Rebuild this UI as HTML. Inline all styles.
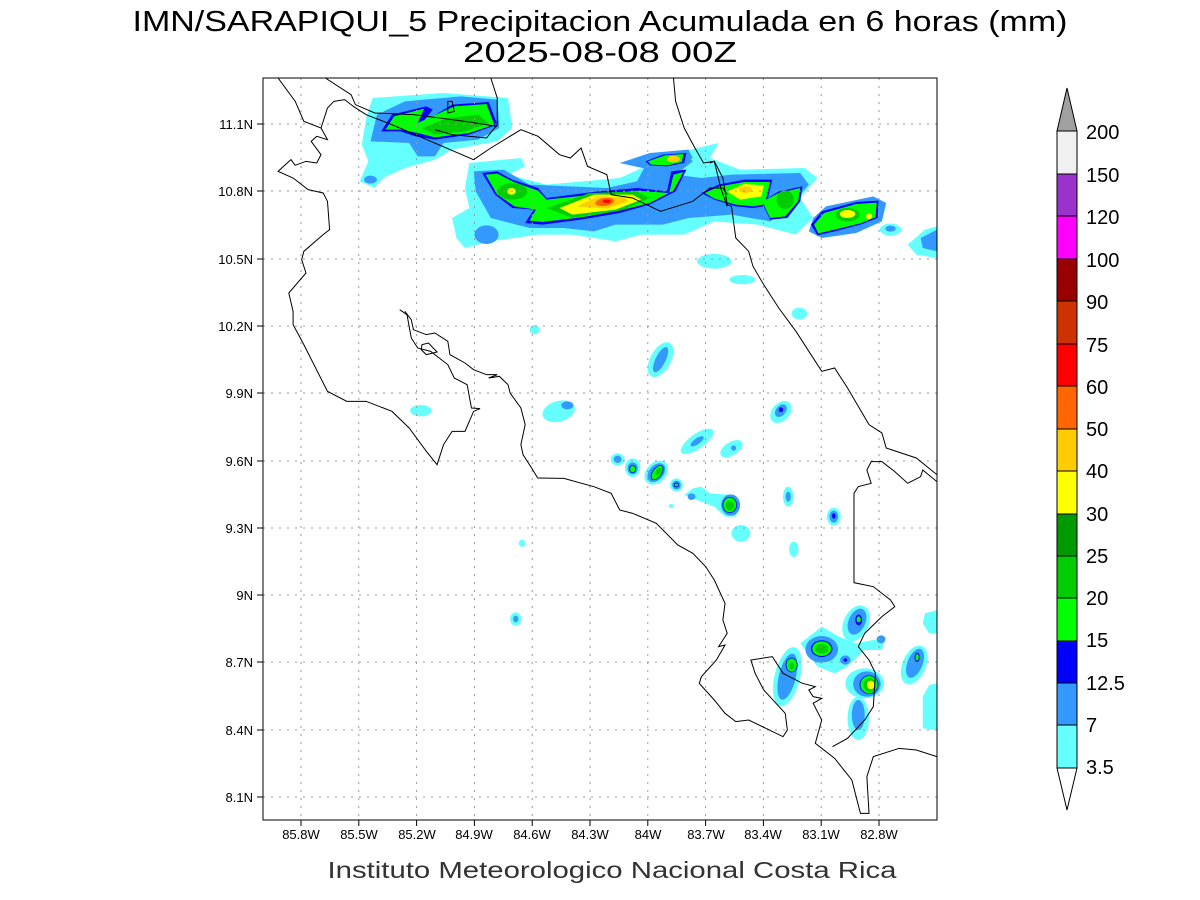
<!DOCTYPE html>
<html><head><meta charset="utf-8"><style>html,body{margin:0;padding:0;background:#fff}svg{display:block}</style></head>
<body>
<svg width="1200" height="900" xmlns="http://www.w3.org/2000/svg" font-family="Liberation Sans, sans-serif">
<rect width="1200" height="900" fill="#fff"/>
<text x="600" y="31" font-size="29" text-anchor="middle" textLength="935" lengthAdjust="spacingAndGlyphs" fill="#000" font-weight="normal">IMN/SARAPIQUI_5 Precipitacion Acumulada en 6 horas (mm)</text>
<text x="600" y="62" font-size="29" text-anchor="middle" textLength="274" lengthAdjust="spacingAndGlyphs" fill="#000">2025-08-08 00Z</text>
<text x="612" y="878" font-size="23" text-anchor="middle" textLength="569" lengthAdjust="spacingAndGlyphs" fill="#333">Instituto Meteorologico Nacional Costa Rica</text>

<defs><clipPath id="c"><rect x="263" y="78" width="674" height="742"/></clipPath></defs>
<g clip-path="url(#c)">
<g transform="translate(263,78) scale(0.4298,0.33333)">
 <path d="M255,60 L420,45 L570,60 L580,150 L545,190 L440,215 L400,245 L330,270 L280,300 L260,330 L225,310 L245,250 L230,200 L240,120 Z" fill="#66ffff"/>
 <path d="M265,110 L330,70 L460,55 L545,65 L550,150 L500,185 L420,195 L400,235 L360,235 L340,195 L250,190 Z" fill="#3399ff"/>
 <ellipse cx="250" cy="305" rx="15" ry="12" fill="#3399ff"/>
 <path d="M275,160 L300,110 L380,85 L395,95 L370,135 L440,80 L525,72 L545,140 L480,170 L400,185 L355,175 L320,160 Z" fill="#0000ff"/>
 <path d="M285,155 L305,115 L375,92 L360,135 L445,85 L520,78 L538,140 L480,165 L400,178 L360,165 L320,155 Z" fill="#00ff00"/>
 <path d="M370,150 L430,120 L500,110 L525,135 L470,160 L400,170 Z" fill="#00cc00"/>
 <path d="M480,255 L600,240 L610,265 L570,290 L660,320 L830,300 L960,225 L1060,195 L1040,240 L1110,275 L1260,270 L1290,300 L1250,360 L1280,420 L1240,470 L1150,440 L1050,430 L980,470 L880,470 L820,490 L720,470 L640,470 L530,490 L470,510 L450,480 L440,420 L480,390 L470,330 Z" fill="#66ffff"/>
 <path d="M490,280 L560,275 L620,320 L800,330 L870,310 L900,240 L980,220 L1000,250 L960,290 L1020,300 L1090,290 L1250,285 L1270,320 L1230,380 L1180,430 L1090,410 L990,420 L930,440 L820,440 L770,460 L700,450 L620,450 L560,430 L530,420 L495,340 Z" fill="#3399ff"/>
 <ellipse cx="520" cy="470" rx="28" ry="28" fill="#3399ff"/>
 <path d="M1280,420 L1310,385 L1420,355 L1450,375 L1440,430 L1380,465 L1300,480 L1270,460 Z" fill="#3399ff"/>
 <path d="M1500,500 L1540,455 L1568,445 L1568,540 L1520,530 Z" fill="#66ffff"/>
 <path d="M1530,480 L1568,455 L1568,520 L1535,510 Z" fill="#3399ff"/>
 <ellipse cx="1460" cy="455" rx="25" ry="18" fill="#66ffff"/>
 <ellipse cx="1460" cy="452" rx="12" ry="9" fill="#3399ff"/>
 <path d="M830,255 L900,225 L990,215 L1000,240 L950,270 L900,275 Z" fill="#3399ff"/>
 <path d="M890,250 L930,230 L985,225 L980,255 L940,265 L900,262 Z" fill="#0000ff"/>
 <path d="M895,250 L935,232 L978,228 L975,252 L940,262 L903,260 Z" fill="#00ff00"/>
 <ellipse cx="955" cy="243" rx="15" ry="10" fill="#ffcc00"/>
 <path d="M510,285 L545,280 L580,305 L640,330 L660,360 L780,340 L870,330 L940,340 L950,280 L985,275 L960,340 L900,380 L830,405 L740,425 L650,440 L610,435 L630,395 L580,390 L540,350 Z" fill="#0000ff"/>
 <path d="M518,290 L545,287 L580,310 L640,338 L660,365 L780,348 L870,338 L945,345 L955,290 L978,282 L955,338 L900,375 L830,398 L740,418 L650,432 L620,428 L635,395 L585,385 L545,350 Z" fill="#00ff00"/>
 <ellipse cx="580" cy="340" rx="35" ry="25" fill="#00cc00"/>
 <ellipse cx="578" cy="340" rx="10" ry="10" fill="#ffff00"/>
 <path d="M660,390 L760,345 L870,340 L900,360 L840,395 L720,420 Z" fill="#00cc00"/>
 <path d="M690,390 L770,350 L860,350 L880,365 L820,395 L720,410 Z" fill="#ffff00"/>
 <path d="M730,385 L780,355 L840,358 L850,370 L800,392 Z" fill="#ffcc00"/>
 <ellipse cx="795" cy="372" rx="22" ry="12" fill="#ff6600" transform="rotate(-12 795 372)"/>
 <ellipse cx="800" cy="370" rx="10" ry="5" fill="#ff0000"/>
 <path d="M1020,345 L1060,320 L1120,305 L1185,305 L1175,360 L1200,340 L1255,325 L1250,370 L1220,420 L1180,425 L1165,385 L1140,390 L1100,385 L1050,365 Z" fill="#0000ff"/>
 <path d="M1028,345 L1062,325 L1120,312 L1180,312 L1170,365 L1200,345 L1250,330 L1245,370 L1215,415 L1180,420 L1165,380 L1140,385 L1100,380 L1050,362 Z" fill="#00ff00"/>
 <path d="M1080,340 L1120,318 L1165,322 L1160,355 L1110,365 Z" fill="#ffff00"/>
 <ellipse cx="1122" cy="335" rx="15" ry="10" fill="#ffcc00"/>
 <ellipse cx="1215" cy="365" rx="20" ry="28" fill="#00cc00"/>
 <path d="M1275,440 L1300,400 L1380,372 L1432,368 L1430,420 L1390,440 L1330,460 L1290,472 Z" fill="#0000ff"/>
 <path d="M1282,440 L1305,405 L1380,378 L1428,374 L1425,418 L1390,436 L1330,455 L1292,466 Z" fill="#00ff00"/>
 <ellipse cx="1360" cy="410" rx="28" ry="20" fill="#00cc00"/>
 <ellipse cx="1360" cy="408" rx="18" ry="12" fill="#ffff00"/>
 <ellipse cx="1410" cy="415" rx="7" ry="9" fill="#ffff00"/>
 <ellipse cx="1050" cy="550" rx="40" ry="22" fill="#66ffff"/>
 <ellipse cx="1115" cy="605" rx="30" ry="14" fill="#66ffff"/>
 <ellipse cx="1248" cy="707" rx="18" ry="18" fill="#66ffff"/>
 <ellipse cx="632" cy="755" rx="12" ry="14" fill="#66ffff"/>
 <ellipse cx="925" cy="845" rx="25" ry="55" fill="#66ffff" transform="rotate(20 925 845)"/>
 <ellipse cx="925" cy="845" rx="12" ry="40" fill="#3399ff" transform="rotate(20 925 845)"/>
 <ellipse cx="367" cy="998" rx="25" ry="17" fill="#66ffff"/>
 <ellipse cx="688" cy="1000" rx="40" ry="30" fill="#66ffff" transform="rotate(-30 688 1000)"/>
 <ellipse cx="708" cy="982" rx="14" ry="12" fill="#3399ff"/>
 <ellipse cx="1205" cy="1002" rx="22" ry="35" fill="#66ffff" transform="rotate(25 1205 1002)"/>
 <ellipse cx="1205" cy="998" rx="12" ry="20" fill="#3399ff" transform="rotate(25 1205 998)"/>
 <ellipse cx="1205" cy="995" rx="5" ry="7" fill="#0000ff"/>
 <ellipse cx="1010" cy="1090" rx="20" ry="50" fill="#66ffff" transform="rotate(45 1010 1090)"/>
 <ellipse cx="1010" cy="1090" rx="8" ry="20" fill="#3399ff" transform="rotate(45 1010 1090)"/>
 <ellipse cx="1090" cy="1112" rx="18" ry="32" fill="#66ffff" transform="rotate(45 1090 1112)"/>
 <ellipse cx="1095" cy="1110" rx="6" ry="8" fill="#3399ff"/>
</g>
<g transform="translate(263,420) scale(0.4298,0.33333)">
 <ellipse cx="825" cy="118" rx="16" ry="18" fill="#66ffff"/><ellipse cx="825" cy="118" rx="9" ry="11" fill="#3399ff"/>
 <ellipse cx="860" cy="143" rx="18" ry="28" fill="#66ffff"/><ellipse cx="860" cy="145" rx="12" ry="18" fill="#3399ff"/><ellipse cx="860" cy="147" rx="8" ry="12" fill="#0000ff"/><ellipse cx="860" cy="147" rx="6" ry="10" fill="#00ff00"/>
 <ellipse cx="915" cy="158" rx="25" ry="38" fill="#66ffff" transform="rotate(25 915 158)"/><ellipse cx="915" cy="158" rx="18" ry="30" fill="#3399ff" transform="rotate(25 915 158)"/><ellipse cx="917" cy="158" rx="12" ry="24" fill="#0000ff" transform="rotate(25 917 158)"/><ellipse cx="917" cy="158" rx="10" ry="22" fill="#00ff00" transform="rotate(25 917 158)"/><ellipse cx="920" cy="155" rx="6" ry="12" fill="#00cc00" transform="rotate(25 920 155)"/>
 <ellipse cx="962" cy="195" rx="15" ry="20" fill="#66ffff"/><ellipse cx="962" cy="195" rx="10" ry="13" fill="#3399ff"/><ellipse cx="962" cy="195" rx="6" ry="7" fill="#0000ff"/><ellipse cx="962" cy="195" rx="4" ry="4" fill="#00ff00"/>
 <path d="M980,225 L1000,205 L1020,200 L1040,220 L1090,225 L1110,260 L1100,290 L1075,290 L1050,260 L1010,240 Z" fill="#66ffff"/>
 <ellipse cx="997" cy="230" rx="9" ry="10" fill="#3399ff"/>
 <ellipse cx="1088" cy="255" rx="22" ry="32" fill="#3399ff"/><ellipse cx="1086" cy="255" rx="17" ry="24" fill="#0000ff"/><ellipse cx="1086" cy="255" rx="15" ry="22" fill="#00ff00"/><ellipse cx="1086" cy="257" rx="10" ry="14" fill="#00cc00"/>
 <ellipse cx="950" cy="258" rx="6" ry="6" fill="#66ffff"/>
 <ellipse cx="1112" cy="340" rx="22" ry="25" fill="#66ffff"/>
 <ellipse cx="1222" cy="230" rx="12" ry="30" fill="#66ffff"/><ellipse cx="1222" cy="230" rx="6" ry="15" fill="#3399ff"/>
 <ellipse cx="1328" cy="290" rx="16" ry="27" fill="#66ffff"/><ellipse cx="1328" cy="290" rx="10" ry="18" fill="#3399ff"/><ellipse cx="1328" cy="288" rx="4" ry="8" fill="#0000ff"/>
 <ellipse cx="1235" cy="388" rx="11" ry="23" fill="#66ffff"/>
 <ellipse cx="603" cy="370" rx="8" ry="11" fill="#66ffff"/>
 <ellipse cx="588" cy="597" rx="13" ry="20" fill="#66ffff"/><ellipse cx="588" cy="597" rx="6" ry="10" fill="#3399ff"/>
 <ellipse cx="1380" cy="610" rx="30" ry="55" fill="#66ffff" transform="rotate(15 1380 610)"/><ellipse cx="1382" cy="605" rx="20" ry="40" fill="#3399ff" transform="rotate(15 1382 605)"/><ellipse cx="1386" cy="600" rx="8" ry="16" fill="#0000ff"/><ellipse cx="1386" cy="598" rx="5" ry="9" fill="#00ff00"/>
 <path d="M1250,670 L1300,620 L1340,650 L1380,670 L1420,660 L1450,650 L1440,690 L1400,690 L1360,740 L1330,760 L1290,740 Z" fill="#66ffff"/>
 <ellipse cx="1300" cy="688" rx="38" ry="40" fill="#3399ff"/><ellipse cx="1300" cy="686" rx="25" ry="25" fill="#0000ff"/><ellipse cx="1300" cy="686" rx="22" ry="22" fill="#00ff00"/><ellipse cx="1300" cy="686" rx="15" ry="14" fill="#00cc00"/>
 <ellipse cx="1355" cy="720" rx="12" ry="14" fill="#3399ff"/><ellipse cx="1355" cy="720" rx="4" ry="5" fill="#0000ff"/>
 <ellipse cx="1438" cy="658" rx="10" ry="12" fill="#3399ff"/>
 <ellipse cx="1220" cy="770" rx="30" ry="90" fill="#66ffff" transform="rotate(10 1220 770)"/><ellipse cx="1220" cy="770" rx="20" ry="70" fill="#3399ff" transform="rotate(10 1220 770)"/><ellipse cx="1230" cy="735" rx="14" ry="22" fill="#0000ff"/><ellipse cx="1230" cy="735" rx="12" ry="20" fill="#00ff00"/><ellipse cx="1230" cy="738" rx="6" ry="10" fill="#00cc00"/>
 <ellipse cx="1400" cy="790" rx="45" ry="45" fill="#66ffff"/><ellipse cx="1405" cy="792" rx="32" ry="38" fill="#3399ff"/><ellipse cx="1410" cy="794" rx="22" ry="28" fill="#0000ff"/><ellipse cx="1410" cy="794" rx="20" ry="26" fill="#00ff00"/><ellipse cx="1412" cy="795" rx="14" ry="20" fill="#00cc00"/><ellipse cx="1414" cy="795" rx="9" ry="13" fill="#ffff00"/>
 <ellipse cx="1385" cy="895" rx="25" ry="65" fill="#66ffff"/><ellipse cx="1385" cy="885" rx="15" ry="45" fill="#3399ff"/>
 <ellipse cx="1515" cy="735" rx="28" ry="60" fill="#66ffff" transform="rotate(15 1515 735)"/><ellipse cx="1517" cy="730" rx="18" ry="45" fill="#3399ff" transform="rotate(15 1517 730)"/><ellipse cx="1522" cy="712" rx="6" ry="14" fill="#0000ff"/><ellipse cx="1522" cy="712" rx="4" ry="10" fill="#00ff00"/>
 <path d="M1540,580 L1568,570 L1568,640 L1550,640 L1535,610 Z" fill="#66ffff"/>
 <path d="M1535,830 L1550,795 L1568,790 L1568,930 L1535,925 Z" fill="#66ffff"/>
</g>
<g stroke="#999" stroke-width="1" stroke-dasharray="2,6">
 <line x1="301" y1="78" x2="301" y2="820"/><line x1="358.8" y1="78" x2="358.8" y2="820"/><line x1="416.6" y1="78" x2="416.6" y2="820"/><line x1="474.4" y1="78" x2="474.4" y2="820"/><line x1="532.2" y1="78" x2="532.2" y2="820"/><line x1="590" y1="78" x2="590" y2="820"/><line x1="647.8" y1="78" x2="647.8" y2="820"/><line x1="705.6" y1="78" x2="705.6" y2="820"/><line x1="763.4" y1="78" x2="763.4" y2="820"/><line x1="821.2" y1="78" x2="821.2" y2="820"/><line x1="879" y1="78" x2="879" y2="820"/>
 <line x1="263" y1="124" x2="937" y2="124"/><line x1="263" y1="191" x2="937" y2="191"/><line x1="263" y1="259" x2="937" y2="259"/><line x1="263" y1="326" x2="937" y2="326"/><line x1="263" y1="393" x2="937" y2="393"/><line x1="263" y1="461" x2="937" y2="461"/><line x1="263" y1="528" x2="937" y2="528"/><line x1="263" y1="595" x2="937" y2="595"/><line x1="263" y1="662" x2="937" y2="662"/><line x1="263" y1="730" x2="937" y2="730"/><line x1="263" y1="797" x2="937" y2="797"/>
</g>
<g fill="none" stroke="#000" stroke-width="1" transform="translate(263,78) scale(0.4298,0.33333)">
 <path vector-effect="non-scaling-stroke" d="M35,0 L75,70 L95,130 L135,150 L150,185 L125,175 L112,190 L135,230 L125,255 L100,250 L75,262 L65,245 L35,280 L70,300 L105,335 L140,345 L150,370 L155,455 L140,470 L95,520 L90,545 L100,585 L60,645 L70,700 L70,740 L95,800 L150,940 L195,970 L240,970 L300,1000 L340,1050 L380,1120 L405,1160 L420,1100 L440,1060 L470,1060 L490,1000 L505,992 L485,990 L475,920 L445,900 L430,860 L390,820 L360,810 L345,780 L335,710 L318,695"/>
 <path vector-effect="non-scaling-stroke" d="M330,700 L345,725 L350,755 L380,770 L400,765 L430,790 L435,830 L470,855 L490,875 L520,890 L545,890 L525,900 L550,895 L570,920 L575,945 L600,990 L610,1040 L600,1100 L605,1130 L625,1170 L639,1200"/>
 <path vector-effect="non-scaling-stroke" d="M370,800 L385,795 L405,822 L380,830 L368,815 Z"/>
 <path vector-effect="non-scaling-stroke" d="M145,0 L205,50 L215,80 L260,105 L350,110 L470,130 L545,145"/>
 <path vector-effect="non-scaling-stroke" d="M165,70 L190,65 L210,85 L240,110 L300,140 L490,245 L530,210 L600,155 L640,175 L690,230 L715,240 L740,210 L755,265 L800,290 L810,350 L860,360 L925,400 L1000,370 L1040,330 L1070,330 L1080,350"/>
 <path vector-effect="non-scaling-stroke" d="M165,70 L150,90 L135,150"/>
 <path vector-effect="non-scaling-stroke" d="M530,0 L545,60 L545,140 L520,180 L440,170 L400,155"/>
 <path vector-effect="non-scaling-stroke" d="M430,70 L440,70 L445,100 L430,105 Z"/>
 <path vector-effect="non-scaling-stroke" d="M955,0 L960,70 L980,150 L1005,210 L1025,255 L1050,250 L1070,300 L1080,380 L1090,385 L1100,480 L1130,520 L1140,565 L1165,620 L1200,690 L1240,760 L1270,820 L1300,880 L1330,870 L1360,930 L1410,1040 L1440,1065 L1450,1110 L1520,1140 L1568,1190"/>
 <path vector-effect="non-scaling-stroke" d="M1040,255 L1050,250 L1065,330 L1080,385"/>
</g>
<g fill="none" stroke="#000" stroke-width="1" transform="translate(263,420) scale(0.4298,0.33333)">
 <path vector-effect="non-scaling-stroke" d="M639,174 L700,175 L770,200 L810,220 L830,270 L860,280 L915,310 L965,375 L1000,400 L1030,440 L1050,480 L1075,550 L1070,600 L1080,640 L1060,680 L1075,675 L1055,720 L1020,770 L1015,790 L1050,840 L1075,880 L1100,905 L1130,900 L1210,950 L1220,930 L1215,880 L1165,810 L1145,760 L1135,720 L1185,710 L1210,760 L1255,790 L1285,800 L1270,810 L1280,830 L1300,835 L1280,850 L1300,900 L1285,970 L1330,1015 L1370,1080 L1390,1180 L1410,1180 L1405,1070 L1420,1010 L1480,985 L1520,990 L1568,1010"/>
 <path vector-effect="non-scaling-stroke" d="M1325,980 L1360,955 L1400,900 L1420,860 L1425,760 L1410,720 L1385,680 L1400,640 L1440,590 L1470,560 L1460,540 L1420,500 L1375,488 L1375,220 L1385,200 L1415,190 L1405,150 L1415,125 L1440,125 L1470,155 L1500,190 L1530,170 L1535,150 L1568,185"/>
</g>
</g>
<rect x="263" y="78" width="674" height="742" fill="none" stroke="#000" stroke-width="1"/>
<g stroke="#000" stroke-width="1">
 <line x1="301" y1="820" x2="301" y2="826"/><line x1="358.8" y1="820" x2="358.8" y2="826"/><line x1="416.6" y1="820" x2="416.6" y2="826"/><line x1="474.4" y1="820" x2="474.4" y2="826"/><line x1="532.2" y1="820" x2="532.2" y2="826"/><line x1="590" y1="820" x2="590" y2="826"/><line x1="647.8" y1="820" x2="647.8" y2="826"/><line x1="705.6" y1="820" x2="705.6" y2="826"/><line x1="763.4" y1="820" x2="763.4" y2="826"/><line x1="821.2" y1="820" x2="821.2" y2="826"/><line x1="879" y1="820" x2="879" y2="826"/>
 <line x1="257" y1="124" x2="263" y2="124"/><line x1="257" y1="191" x2="263" y2="191"/><line x1="257" y1="259" x2="263" y2="259"/><line x1="257" y1="326" x2="263" y2="326"/><line x1="257" y1="393" x2="263" y2="393"/><line x1="257" y1="461" x2="263" y2="461"/><line x1="257" y1="528" x2="263" y2="528"/><line x1="257" y1="595" x2="263" y2="595"/><line x1="257" y1="662" x2="263" y2="662"/><line x1="257" y1="730" x2="263" y2="730"/><line x1="257" y1="797" x2="263" y2="797"/>
</g>
<g font-size="13" text-anchor="middle" fill="#000">
 <text x="301" y="839">85.8W</text><text x="359" y="839">85.5W</text><text x="417" y="839">85.2W</text><text x="474" y="839">84.9W</text><text x="532" y="839">84.6W</text><text x="590" y="839">84.3W</text><text x="648" y="839">84W</text><text x="706" y="839">83.7W</text><text x="763" y="839">83.4W</text><text x="821" y="839">83.1W</text><text x="879" y="839">82.8W</text>
</g>
<g font-size="13" text-anchor="end" fill="#000">
 <text x="253" y="129">11.1N</text><text x="253" y="196">10.8N</text><text x="253" y="264">10.5N</text><text x="253" y="331">10.2N</text><text x="253" y="398">9.9N</text><text x="253" y="466">9.6N</text><text x="253" y="533">9.3N</text><text x="253" y="600">9N</text><text x="253" y="667">8.7N</text><text x="253" y="735">8.4N</text><text x="253" y="802">8.1N</text>
</g>
<g stroke="#000" stroke-width="1">
 <polygon points="1057,131 1077,131 1067,88" fill="#a0a0a0"/>
 <rect x="1057" y="131" width="20" height="43" fill="#f0f0f0"/>
 <rect x="1057" y="174" width="20" height="42" fill="#9933cc"/>
 <rect x="1057" y="216" width="20" height="43" fill="#ff00ff"/>
 <rect x="1057" y="259" width="20" height="42" fill="#990000"/>
 <rect x="1057" y="301" width="20" height="43" fill="#cc3300"/>
 <rect x="1057" y="344" width="20" height="42" fill="#ff0000"/>
 <rect x="1057" y="386" width="20" height="43" fill="#ff6600"/>
 <rect x="1057" y="429" width="20" height="42" fill="#ffcc00"/>
 <rect x="1057" y="471" width="20" height="43" fill="#ffff00"/>
 <rect x="1057" y="514" width="20" height="42" fill="#009900"/>
 <rect x="1057" y="556" width="20" height="42" fill="#00cc00"/>
 <rect x="1057" y="598" width="20" height="43" fill="#00ff00"/>
 <rect x="1057" y="641" width="20" height="42" fill="#0000ff"/>
 <rect x="1057" y="683" width="20" height="42" fill="#3399ff"/>
 <rect x="1057" y="725" width="20" height="43" fill="#66ffff"/>
 <polygon points="1057,768 1077,768 1067,810" fill="#ffffff"/>
</g>
<g font-size="20" fill="#000">
 <text x="1086" y="139">200</text><text x="1086" y="182">150</text><text x="1086" y="224">120</text><text x="1086" y="267">100</text><text x="1086" y="309">90</text><text x="1086" y="352">75</text><text x="1086" y="394">60</text><text x="1086" y="436">50</text><text x="1086" y="478">40</text><text x="1086" y="521">30</text><text x="1086" y="563">25</text><text x="1086" y="605">20</text><text x="1086" y="647">15</text><text x="1086" y="690">12.5</text><text x="1086" y="732">7</text><text x="1086" y="774">3.5</text>
</g>
</svg>
</body></html>
